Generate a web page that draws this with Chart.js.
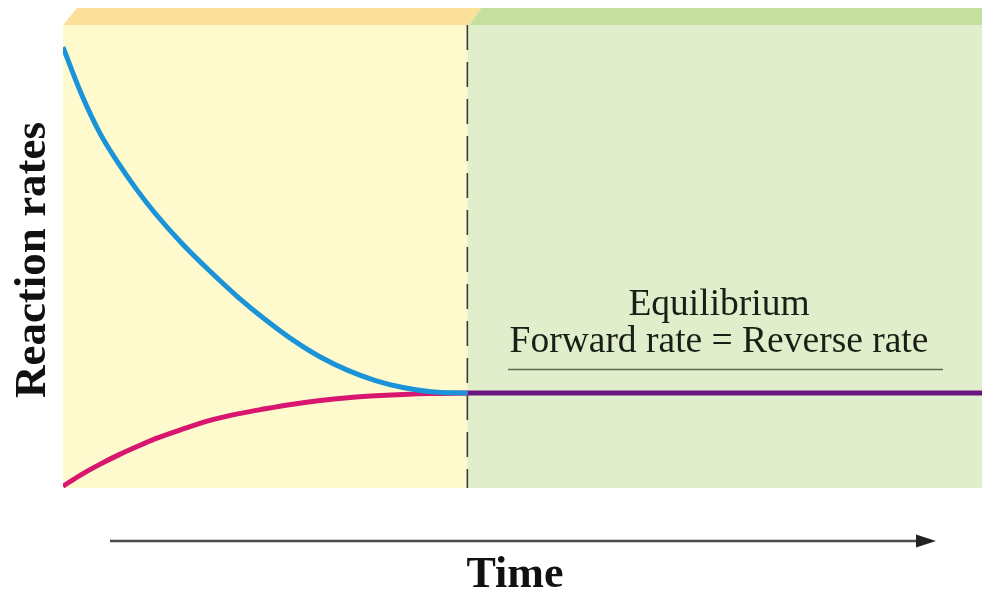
<!DOCTYPE html>
<html><head><meta charset="utf-8">
<script src="https://cdn.jsdelivr.net/npm/chart.js@4/dist/chart.umd.min.js"></script>
<style>html,body{margin:0;padding:0;background:#fff;}#wrap{width:983px;height:596px;}</style>
</head><body><div id="wrap"><canvas id="c" width="983" height="596"></canvas></div>
<script>
// ---- data (arbitrary units: time 0..100, rate 0..100) ----
const timePoints   = [0, 2, 4, 6, 8, 10, 13, 16, 19, 22, 25, 28, 31, 34, 37, 40, 44];
const forwardRate  = [95.2, 85.1, 76.7, 70.2, 64.5, 59.4, 52.7, 46.8, 41.3, 36.4, 32.0, 28.3, 25.4, 23.2, 21.7, 20.8, 20.5];
const reverseRate  = [0.4, 2.9, 5.1, 7.1, 8.9, 10.6, 12.7, 14.6, 16.0, 17.1, 18.1, 18.9, 19.5, 19.9, 20.2, 20.4, 20.5];
const equilibriumTime = [44, 100];
const equilibriumRate = [20.5, 20.5];
const equilibriumStart = 44;
const yAxisTitle = "Reaction rates";
const xAxisTitle = "Time";
const noteLines = ["Equilibrium", "Forward rate = Reverse rate"];

const toXY = (xs, ys) => xs.map((x, i) => ({x: x, y: ys[i]}));

const decor = {
  id: 'decor',
  beforeDatasetsDraw(chart) {
    const {ctx, chartArea: a, scales: {x}} = chart;
    const xe = x.getPixelForValue(equilibriumStart);
    ctx.save();
    ctx.fillStyle = '#fefacd';
    ctx.fillRect(a.left, a.top, xe - a.left, a.bottom - a.top);
    ctx.fillStyle = '#e1eecb';
    ctx.fillRect(xe, a.top, a.right - xe, a.bottom - a.top);
    const st = a.top - 17;
    ctx.fillStyle = '#fbe09a';
    ctx.beginPath();
    ctx.moveTo(a.left, a.top); ctx.lineTo(a.left + 14, st);
    ctx.lineTo(xe + 14, st); ctx.lineTo(xe + 2, a.top); ctx.closePath(); ctx.fill();
    ctx.fillStyle = '#c5df9e';
    ctx.beginPath();
    ctx.moveTo(xe + 2, a.top); ctx.lineTo(xe + 14, st);
    ctx.lineTo(a.right, st); ctx.lineTo(a.right, a.top); ctx.closePath(); ctx.fill();
    ctx.strokeStyle = '#3a3a36';
    ctx.lineWidth = 1.6;
    ctx.setLineDash([25, 12]);
    ctx.beginPath();
    ctx.moveTo(xe, a.top); ctx.lineTo(xe, a.bottom);
    ctx.stroke();
    ctx.restore();
  },
  afterDraw(chart) {
    const {ctx} = chart;
    ctx.save();
    const cx = 719;
    ctx.fillStyle = '#1a1f16';
    ctx.textAlign = 'center';
    ctx.textBaseline = 'alphabetic';
    ctx.font = '37.5px "Liberation Serif", serif';
    ctx.fillText(noteLines[0], cx, 315);
    ctx.fillText(noteLines[1], cx, 352);
    ctx.strokeStyle = '#5b6a4c';
    ctx.lineWidth = 1.6;
    ctx.beginPath(); ctx.moveTo(508, 369.5); ctx.lineTo(943, 369.5); ctx.stroke();
    ctx.fillStyle = '#111';
    ctx.font = 'bold 45px "Liberation Serif", serif';
    ctx.save();
    ctx.translate(45, 260);
    ctx.rotate(-Math.PI / 2);
    ctx.textAlign = 'center';
    ctx.fillText(yAxisTitle, 0, 0);
    ctx.restore();
    ctx.font = 'bold 44px "Liberation Serif", serif';
    ctx.textAlign = 'center';
    ctx.fillText(xAxisTitle, 515, 587);
    ctx.strokeStyle = '#4a4a4a';
    ctx.lineWidth = 2.5;
    ctx.beginPath(); ctx.moveTo(110, 541); ctx.lineTo(920, 541); ctx.stroke();
    ctx.fillStyle = '#222';
    ctx.beginPath(); ctx.moveTo(936, 541); ctx.lineTo(916, 534.5); ctx.lineTo(916, 547.5); ctx.closePath(); ctx.fill();
    ctx.restore();
  }
};

new Chart(document.getElementById('c'), {
  type: 'line',
  data: {
    datasets: [
      { label: 'Forward rate', data: toXY(timePoints, forwardRate), borderColor: '#1b93d9', borderWidth: 5, pointRadius: 0, cubicInterpolationMode: 'monotone', fill: false },
      { label: 'Reverse rate', data: toXY(timePoints, reverseRate), borderColor: '#d8166f', borderWidth: 5, pointRadius: 0, cubicInterpolationMode: 'monotone', fill: false },
      { label: 'Equilibrium', data: toXY(equilibriumTime, equilibriumRate), borderColor: '#6a1682', borderWidth: 5, pointRadius: 0, fill: false }
    ]
  },
  options: {
    responsive: false,
    animation: false,
    devicePixelRatio: 1,
    layout: { padding: { left: 63, right: 1, top: 25, bottom: 108 } },
    plugins: { legend: { display: false }, tooltip: { enabled: false }, title: { display: false } },
    scales: {
      x: { type: 'linear', min: 0, max: 100, display: false },
      y: { type: 'linear', min: 0, max: 100, display: false }
    }
  },
  plugins: [decor]
});
</script>
</body></html>
